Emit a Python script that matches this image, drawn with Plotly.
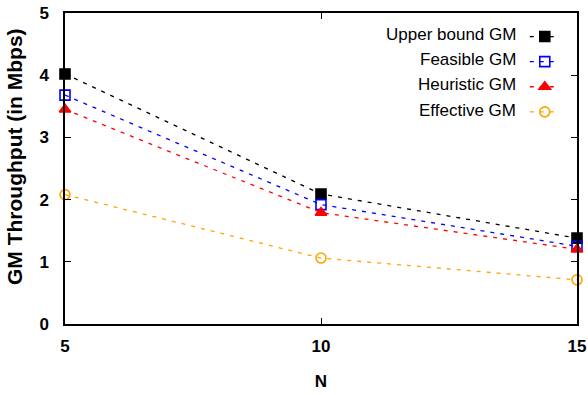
import plotly.graph_objects as go

n_values = [5, 10, 15]
series_names = ["Upper bound GM", "Feasible GM", "Heuristic GM", "Effective GM"]
upper_bound = [4.02, 2.09, 1.38]
feasible = [3.68, 1.92, 1.25]
heuristic = [3.45, 1.79, 1.2]
effective = [2.08, 1.06, 0.71]
y_ticks = [0, 1, 2, 3, 4, 5]
y_title = "GM Throughput (in Mbps)"
x_title = "N"

series_values = [upper_bound, feasible, heuristic, effective]
colors = ["#000000", "#0000FF", "#FF0000", "#FFA500"]
symbols = ["square", "square-open", "triangle-up", "circle-open"]
sizes = [10, 10, 10, 10]

fig = go.Figure()
for name, vals, c, s, sz in zip(series_names, series_values, colors, symbols, sizes):
    fig.add_trace(go.Scatter(
        x=n_values, y=vals, mode="lines+markers", name="\u00a0",
        hovertext=name,
        line=dict(color=c, width=1.3, dash="4px,6px"),
        marker=dict(color=c, symbol=s, size=sz, line=dict(color=c, width=1.6)),
        cliponaxis=False,
    ))

tick_font = dict(family="Liberation Sans Narrow, Arial Narrow, Liberation Sans, sans-serif", size=17, color="black", weight="bold")

W, H = 588, 395
L, R, T, B = 65, 11, 13, 71
plot_w = W - L - R
plot_h = H - T - B
row_h = 25 / plot_h
first_row = 1 - 22 / plot_h
for i, name in enumerate(series_names):
    fig.add_annotation(
        xref="paper", yref="paper", x=0.885, y=first_row - i * row_h,
        text=name, showarrow=False, xanchor="right", yanchor="middle",
        font=dict(family="Liberation Sans, Arial, sans-serif", size=17, color="black"),
    )

fig.add_annotation(
    xref="paper", yref="paper", x=(14 - L) / plot_w, y=(H - B - 157) / plot_h,
    text=y_title, textangle=-90, showarrow=False, xanchor="center", yanchor="middle",
    font=dict(family="Liberation Sans, Arial, sans-serif", size=21, color="black", weight="bold"),
)

fig.update_layout(
    width=W, height=H,
    margin=dict(l=L, r=R, t=T, b=B, autoexpand=False),
    plot_bgcolor="white", paper_bgcolor="white",
    showlegend=True,
    legend=dict(x=0.898, y=first_row + 16 / plot_h, xanchor="left", yanchor="top",
                bgcolor="rgba(0,0,0,0)", tracegroupgap=0, itemwidth=30,
                font=dict(size=17)),
    xaxis=dict(
        range=[5, 15], tickvals=n_values, ticktext=[str(v) for v in n_values],
        showline=True, linecolor="black", linewidth=1.5, mirror="ticks",
        ticks="inside", ticklen=6, tickcolor="black", showgrid=False, zeroline=False,
        tickfont=tick_font, ticklabelstandoff=6, automargin=False,
        ticklabeloverflow="allow",
        title=dict(text=x_title, font=tick_font, standoff=20),
    ),
    yaxis=dict(
        range=[0, 5], tickvals=y_ticks,
        showline=True, linecolor="black", linewidth=1.5, mirror="ticks",
        ticks="inside", ticklen=6, tickcolor="black", showgrid=False, zeroline=False,
        tickfont=tick_font, ticklabelstandoff=11, automargin=False,
    ),
)

fig.write_html("out.html", config={"displayModeBar": False},
               post_script="document.body.style.margin='0';document.body.style.overflow='hidden';")
